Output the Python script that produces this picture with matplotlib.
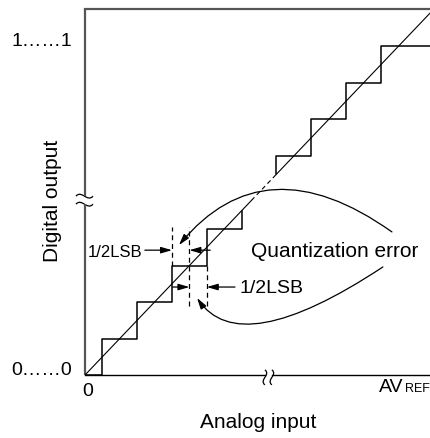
import numpy as np
import matplotlib.pyplot as plt
from matplotlib.path import Path
from matplotlib.patches import FancyArrowPatch, PathPatch

plt.rcParams['font.family'] = ['Liberation Sans', 'DejaVu Sans']

# A/D transfer characteristic, everything in LSB units
low_x = [0, 0.5, 1.5, 2.5, 3.5, 4.5]
low_code = [0, 1, 2, 3, 4, 4.5]
high_x = [5.5, 5.5, 6.5, 7.5, 8.5, 10.5]
high_code = [5.5, 6, 7, 8, 9, 9]
ideal_a = [0, 4.78]      # solid
ideal_gap = [4.78, 5.5]  # dashed
ideal_b = [5.5, 10.5]    # solid

# half-LSB guide lines (x, from, to)
guide_x = [2.5, 3.0, 3.5]
guide_lo = [3.0, 1.9, 1.9]
guide_hi = [4.05, 4.05, 3.0]

# dimension arrows (tail -> head)
upper_arrows = [((1.72, 3.42), (2.5, 3.42)), ((3.6, 3.42), (3.0, 3.42))]
lower_arrows = [((2.52, 2.41), (3.0, 2.41)), ((4.31, 2.41), (3.5, 2.41))]

# quantization error arcs (start, control, end)
upper_arc = [(8.82, 3.92), (5.16, 6.40), (2.70, 3.56)]
lower_arc = [(8.56, 2.96), (4.45, 0.37), (3.22, 2.11)]

ytick_text = ['0……0', '1……1']
ytick_pos = [0, 9]

XMAX = 345 / 34.8
YMAX = 366 / 36.5
GRAY = '#555555'

fig = plt.figure(figsize=(4.3, 4.38), dpi=100)
ax = fig.add_axes([85 / 430, 63 / 438, 345 / 430, 366 / 438])
ax.set_xlim(0, XMAX)
ax.set_ylim(0, YMAX)
ax.set_xticks([])
ax.set_yticks([])
for s in ['left', 'right', 'bottom']:
  ax.spines[s].set_visible(False)
ax.spines['top'].set_color(GRAY)
ax.spines['top'].set_linewidth(1.6)

# axes with breaks
ax.plot([0, 0], [0, 4.68], color=GRAY, lw=1.6, clip_on=False, solid_capstyle='butt')
ax.plot([0, 0], [4.90, YMAX], color=GRAY, lw=1.6, clip_on=False, solid_capstyle='butt')
ax.plot([0, 5.17], [0, 0], color='black', lw=1.0, clip_on=False)
ax.plot([5.37, XMAX], [0, 0], color='black', lw=1.0, clip_on=False)

def wave(p0, p1, h, vertical=False):
  (x0, y0), (x1, y1) = p0, p1
  if vertical:
    pts = [(x0, y0), (x0 + h, y0 + (y1 - y0) / 3), (x0 - h, y0 + 2 * (y1 - y0) / 3), (x1, y1)]
  else:
    pts = [(x0, y0), (x0 + (x1 - x0) / 3, y0 + h), (x0 + 2 * (x1 - x0) / 3, y0 - h), (x1, y1)]
  p = Path(pts, [Path.MOVETO, Path.CURVE4, Path.CURVE4, Path.CURVE4])
  ax.add_patch(PathPatch(p, fill=False, lw=0.9, color='black', clip_on=False))

for v in [4.68, 4.90]:
  wave((-0.26, v), (0.23, v), 0.18)
for u in [5.17, 5.37]:
  wave((u, -0.27), (u, 0.14), -0.18, vertical=True)

# staircase and ideal line
ax.step(low_x, low_code, where='post', color='black', lw=1.1)
ax.step(high_x, high_code, where='post', color='black', lw=1.1)
ax.plot(ideal_a, ideal_a, color='black', lw=0.8)
ax.plot(ideal_gap, ideal_gap, color='black', lw=0.8, dashes=(4, 3))
ax.plot(ideal_b, ideal_b, color='black', lw=0.8)

for gx, lo, hi in zip(guide_x, guide_lo, guide_hi):
  ax.plot([gx, gx], [lo, hi], color='black', lw=0.9, dashes=(4, 3))

style = '-|>,head_length=0.55,head_width=0.16'
for tail, head in upper_arrows + lower_arrows:
  ax.add_patch(FancyArrowPatch(tail, head, arrowstyle=style, mutation_scale=12,
                               shrinkA=0, shrinkB=0, lw=0.9, color='black'))

for arc in [upper_arc, lower_arc]:
  p = Path(arc, [Path.MOVETO, Path.CURVE3, Path.CURVE3])
  ax.add_patch(FancyArrowPatch(path=p, arrowstyle=style, mutation_scale=12,
                               lw=0.9, color='black'))

# text
ax.text(1.66, 3.22, '1/2LSB', fontsize=12, ha='right', va='baseline')
ax.text(4.45, 2.25, '1/2LSB', fontsize=14, ha='left', va='baseline')
ax.text(7.17, 3.23, 'Quantization error', fontsize=15, ha='center', va='baseline')

for t, v in zip(ytick_text, ytick_pos):
  ax.text(-0.37, v, t, fontsize=14, ha='right', va='baseline', clip_on=False)
ax.text(0.08, -0.22, '0', fontsize=14, ha='center', va='top', clip_on=False)
av = ax.text(8.46, -0.47, 'AV', fontsize=14, ha='left', va='baseline', clip_on=False)
ax.annotate('REF', xy=(1, 0), xycoords=av, xytext=(0.5, 1), textcoords='offset points',
            fontsize=9, ha='left', va='bottom', annotation_clip=False)

ax.text(4.97, -1.45, 'Analog input', fontsize=15, ha='center', va='baseline', clip_on=False)
ax.text(-0.78, 4.77, 'Digital output', fontsize=15, rotation=90, rotation_mode='anchor',
        ha='center', va='baseline', clip_on=False)

fig.savefig('out.png', dpi=100)
